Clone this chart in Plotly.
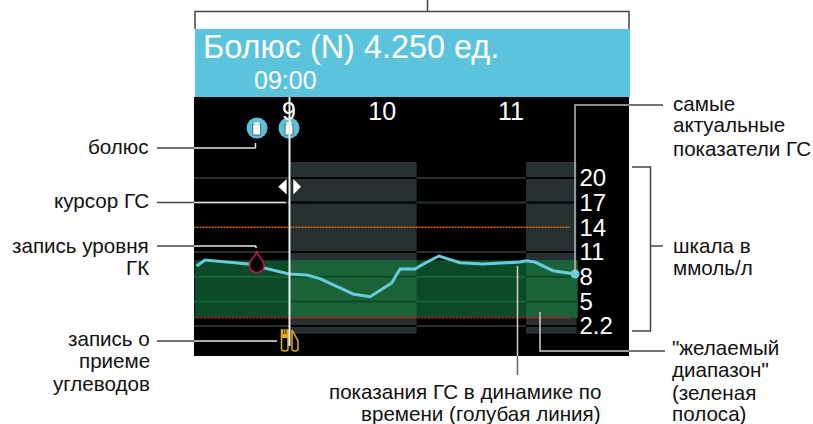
import re
import plotly.graph_objects as go

W, H = 813, 424
FONT = "Liberation Sans"
INK = "#111111"

# Data
hour_ticks = [9.0, 9.84, 11.0]
hour_labels = ["9", "10", "11"]
scale_ticks = [20, 17, 14, 11, 8, 5, 2]
scale_labels = ["20", "17", "14", "11", "8", "5", "2.2"]
glucose_hours = [8.168, 8.243, 8.631, 9.0, 9.162, 9.279, 9.577, 9.730, 9.925, 10.0,
                 10.135, 10.243, 10.351, 10.541, 10.748, 11.081, 11.135, 11.216, 11.378, 11.577]
glucose_values = [9.30, 10.03, 9.54, 8.33, 8.21, 7.76, 5.90, 5.57, 7.23, 8.93,
                  8.93, 9.78, 10.51, 9.70, 9.54, 9.78, 9.94, 9.78, 8.73, 8.33]
bolus_hours = [8.712, 9.0]
bolus_level = [26.07, 26.07]
target_low, target_high = 3.0, 10.0
limit_low, limit_high = 3.0, 14.0
shaded_periods = [(9.015, 10.15), (11.135, 11.59)]
trace_start, limit_start, limit_end = 8.15, 8.14, 11.53
glucose_now = (11.577, 8.33)

# Scales of the screen area: 111 px per hour, 8.23 px per scale unit
PL, PR, PT, PB = 194, 629, 97, 356
xr = [9 + (PL - 289) / 111, 9 + (PR - 289) / 111]
yr = [11 + (252 - PB) / 8.23, 11 + (252 - PT) / 8.23]

BLACK = "#000000"
GREY = "#263030"
GREEN_D = "#0a4a26"
GREEN_L = "#1b6238"

fig = go.Figure()
shapes = []
anns = []


def data_rect(x0, x1, y0, y1, color):
    shapes.append(dict(type="rect", xref="x", yref="y", x0=x0, x1=x1, y0=y0, y1=y1,
                       fillcolor=color, line_width=0, layer="below"))


def data_line(x0, x1, y, color, width=2, dash="solid"):
    shapes.append(dict(type="line", xref="x", yref="y", x0=x0, x1=x1, y0=y, y1=y,
                       line=dict(color=color, width=width, dash=dash), layer="below"))


def to_paper(path):
    """Turn a path written in page pixels into paper fractions."""
    out, is_x = [], True
    for tok in re.findall(r"[A-Za-z]|-?[\d.]+", path):
        if tok.isalpha():
            out.append(tok)
            is_x = True
        else:
            v = float(tok)
            out.append(f"{v / W:.5f}" if is_x else f"{1 - v / H:.5f}")
            is_x = not is_x
    return " ".join(out)


def px_path(path, stroke=None, width=1.5, fill=None):
    shapes.append(dict(type="path", xref="paper", yref="paper", path=to_paper(path),
                       line=dict(color=stroke or "rgba(0,0,0,0)", width=width),
                       fillcolor=fill or "rgba(0,0,0,0)", layer="above"))


def text(x, y, s, size=20.6, color=INK, anchor="left"):
    anns.append(dict(xref="paper", yref="paper", x=x / W, y=1 - y / H, text=s, showarrow=False, xanchor=anchor,
                     yanchor="middle", borderpad=0, font=dict(family=FONT, size=size, color=color)))


# Shaded periods, target band
for a, b in shaded_periods:
    data_rect(a, b, 11 + (252 - 333.7) / 8.23, 11 + (252 - 162) / 8.23, GREY)
data_rect(trace_start, shaded_periods[1][1] + 0.01, target_low, target_high, GREEN_D)
for a, b in shaded_periods:
    data_rect(a, b + (0.01 if a > 11 else 0), target_low, target_high, GREEN_L)

# Grid lines invert their colour across the shaded periods
edges = [8.12, shaded_periods[0][0], shaded_periods[0][1], shaded_periods[1][0], shaded_periods[1][1]]
for v in scale_ticks:
    if v == 14:
        continue
    in_band = target_low < v < target_high
    for i in range(4):
        shaded = i % 2 == 1
        if in_band:
            c = GREEN_D if shaded else GREEN_L
        else:
            c = BLACK if shaded else GREY
        data_line(edges[i], edges[i + 1], v, c)

# Limits
data_line(limit_start, limit_end, limit_high, "#e06a0c", 1.5, "2px,1px")
data_line(limit_start, limit_end, limit_low, "#e8101c", 1.5, "2px,1.5px")

# Glucose trace
fig.add_trace(go.Scatter(x=glucose_hours, y=glucose_values, mode="lines",
                         line=dict(color="#68cbdc", width=3), hoverinfo="skip", showlegend=False))
fig.add_trace(go.Scatter(x=[glucose_now[0]], y=[glucose_now[1]], mode="markers",
                         marker=dict(color="#68cbdc", size=9), hoverinfo="skip", showlegend=False))
# Bolus markers
fig.add_trace(go.Scatter(x=bolus_hours, y=bolus_level, mode="markers",
                         marker=dict(color="#5bc2dc", size=21), hoverinfo="skip", showlegend=False))
# Hour labels
fig.add_trace(go.Scatter(x=hour_ticks, y=[27.8] * 3, mode="text", text=hour_labels,
                         textfont=dict(family=FONT, size=25, color="white"), hoverinfo="skip", showlegend=False))

# Bottle icons
for cx in (256.7, 289):
    px_path(f"M{cx-4} 124.5 L{cx+4} 124.5 L{cx+4} 135 L{cx-4} 135 Z", "#555f63", 1, "white")
    px_path(f"M{cx-2.5} 122.5 L{cx+2.5} 122.5 L{cx+2.5} 124.5 L{cx-2.5} 124.5 Z", "#d8d8d8", 1, "white")

# Droplet
px_path("M256.7 252 C254 258 249.5 260 249.5 265.5 C249.5 270 253 272.5 256.7 272.5 "
        "C260.5 272.5 264 270 264 265.5 C264 260 259.5 258 256.7 252 Z", "#c8145a", 1.6, BLACK)

# Carb icon
px_path("M281.5 330 L288 330 L288 349 Q288 351 285 351 Q281.5 351 281.5 349 Z", "#e6ae12", 1.5, BLACK)
px_path("M281.5 330 L288 330 L288 337.5 L281.5 337.5 Z", "#e6ae12", 1, "#e6ae12")
px_path("M283.6 329 L283.6 334", BLACK, 0.8)
px_path("M285.9 329 L285.9 334", BLACK, 0.8)
px_path("M292 330 L298 341 L298 349 Q298 351 295 351 Q292 351 292 349 Z", "#e6ae12", 1.5, BLACK)

# Cursor
px_path("M289.5 97 L289.5 346", "#f2f2f2", 2)
px_path("M286.7 179 L278.3 186.7 L286.7 194.5 Z", None, 0, "white")
px_path("M293.3 179 L301 186.7 L293.3 194.5 Z", None, 0, "white")

# Callouts
WHITE_L = "#e8e8e8"
DARK = "#444444"
px_path("M427.5 0 L427.5 11", DARK, 1.5)
px_path("M195 29 L195 11.5 L629 11.5 L629 29", DARK, 1.5)
for y, x1 in ((148, 255.5), (202.5, 286), (246, 256), (341, 277)):
    px_path(f"M157 {y} L194 {y}", DARK, 1.5)
    px_path(f"M194 {y} L{x1} {y}", WHITE_L, 1.5)
px_path("M255.5 148 L255.5 143", WHITE_L, 1.5)
px_path("M256 246 L256 248", WHITE_L, 1.5)
px_path("M575 274 L575 105 L629 105", "#bdbdbd", 1.5)
px_path("M629 105 L663 105", DARK, 1.5)
px_path("M632 167 L650.5 167 L650.5 331 L632 331", DARK, 1.5)
px_path("M650.5 246 L663 246", DARK, 1.5)
px_path("M540 312 L540 351 L629 351", "#d0d0d0", 1.5)
px_path("M629 351 L665 351", DARK, 1.5)
px_path("M517.5 266 L517.5 356", "#d0d0d0", 1.5)
px_path("M517.5 356 L517.5 375", "#666666", 1.5)

# Header
shapes.append(dict(type="rect", xref="paper", yref="paper", x0=195 / W, x1=630 / W, y0=1 - 97 / H, y1=1 - 29 / H,
                   fillcolor="#5bc3dc", line_width=0, layer="above"))
text(201.5, 47, "Болюс (N) 4.250 ед.", 32.4, "white")
text(253, 80, "09:00", 25, "white")

# Captions
for x, y, s, a in [
    (149.5, 146, "болюс", "right"),
    (149.5, 200, "курсор ГС", "right"),
    (149.5, 245, "запись уровня", "right"),
    (149.5, 267, "ГК", "right"),
    (151, 338, "запись о", "right"),
    (151, 360, "приеме", "right"),
    (151, 383, "углеводов", "right"),
    (602, 391, "показания ГС в динамике по", "right"),
    (602, 413, "времени (голубая линия)", "right"),
    (671.5, 103, "самые", "left"),
    (671.5, 125, "актуальные", "left"),
    (671.5, 148, "показатели ГС", "left"),
    (671.5, 245, "шкала в", "left"),
    (671.5, 267, "ммоль/л", "left"),
    (671, 347, "\"желаемый", "left"),
    (671, 369, "диапазон\"", "left"),
    (671, 392, "(зеленая", "left"),
    (671, 413, "полоса)", "left"),
]:
    text(x, y, s, anchor=a)

fig.update_layout(
    width=W, height=H, autosize=False, margin=dict(l=0, r=0, t=0, b=0),
    paper_bgcolor="white", plot_bgcolor=BLACK, showlegend=False,
    shapes=shapes, annotations=anns,
    xaxis=dict(domain=[PL / W, PR / W], range=xr, showgrid=False, zeroline=False, showticklabels=False,
               ticks="", showline=False, fixedrange=True),
    yaxis=dict(domain=[1 - PB / H, 1 - PT / H], range=yr, showgrid=False, zeroline=False, side="right",
               anchor="free", position=578.5 / W, tickmode="array", tickvals=scale_ticks, ticktext=scale_labels,
               tickfont=dict(family=FONT, size=24, color="white"), ticks="", showline=False, fixedrange=True),
)
fig.write_html("out.html", config=dict(displayModeBar=False, responsive=False),
               post_script="document.body.style.margin='0';document.documentElement.style.overflow='hidden';")
